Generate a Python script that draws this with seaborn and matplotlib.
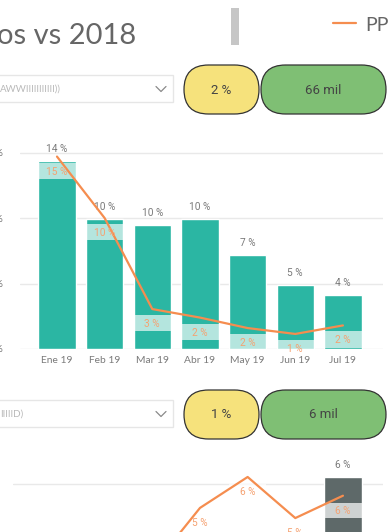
import numpy as np
import matplotlib
matplotlib.use("Agg")
import matplotlib.pyplot as plt
import seaborn as sns
from matplotlib.patches import FancyBboxPatch, Rectangle

# data
months = ["Ene 19", "Feb 19", "Mar 19", "Abr 19", "May 19", "Jun 19", "Jul 19"]
top_bars = [14.35, 9.9, 9.5, 9.9, 7.2, 4.9, 4.15]
top_pp = [14.7, 10.0, 3.05, 2.4, 1.6, 1.15, 1.8]
top_kpis = ["2 %", "66 mil"]
bottom_bars = [2.9, 3.1, 2.6, 3.0, 3.2, 2.8, 6.27]
bottom_pp = [2.4, 2.6, 2.8, 5.08, 6.27, 4.69, 5.55]
bottom_kpis = ["1 %", "6 mil"]
title = "os vs 2018"
legend_label = "PP"

teal = "#2bb6a3"
slate = "#5e6969"
orange = "#f58d4f"
orange_txt = "#f5a272"
grey_txt = "#7a7a7a"

sns.set_theme(style="white")
plt.rcParams["font.family"] = ["Lato", "DejaVu Sans"]

W, H = 390, 532
fig = plt.figure(figsize=(W / 100, H / 100), dpi=100)


def px_axes(left, top, right, bottom):
    return fig.add_axes([left / W, 1 - bottom / H, (right - left) / W, (bottom - top) / H])


def draw_chart(ax, bars, pp, color, ylim, yticks, band_off, band_h, band_alpha):
    x = np.arange(len(months))
    sns.barplot(x=x, y=bars, color=color, saturation=1, width=0.78, ax=ax, zorder=2)
    ax.bar_label(ax.containers[0], labels=[f"{v:.0f} %" for v in bars], padding=5,
                 fontsize=7.3, color=grey_txt, family="Roboto")
    # white label backdrops of the line series
    pp = np.array(pp)
    ax.bar(x, [band_h] * len(x), bottom=pp - band_off - band_h, width=0.78,
           color="white", alpha=band_alpha, zorder=3, linewidth=0)
    sns.lineplot(x=x, y=pp, color=orange, lw=1.6, ax=ax, zorder=4)
    for xi, v in zip(x, pp):
        ax.annotate(f"{v:.0f} %", (xi, v), xytext=(0, -15), textcoords="offset pixels",
                    ha="center", va="center", fontsize=7.3, color=orange_txt,
                    family="Roboto", zorder=5)
    ax.set_yticks(yticks)
    ax.set_yticklabels([f"{t} %" for t in yticks])
    ax.set_ylim(*ylim)
    ax.grid(axis="y", color="#e9e9e9", lw=1, zorder=0)
    ax.set_axisbelow(True)
    sns.despine(ax=ax, left=True, bottom=True, top=True, right=True)
    ax.tick_params(axis="both", length=0, colors=grey_txt, labelsize=7.4, pad=12)
    ax.set_xlabel("")
    ax.set_ylabel("")


# upper chart
ax1 = px_axes(20, 133, 383, 349)
draw_chart(ax1, top_bars, top_pp, teal, (0, 16.5), [0, 5, 10, 15], 0.46, 1.25, 0.65)
ax1.set_xlim(-0.776, 6.84)
ax1.set_xticks(range(len(months)))
ax1.set_xticklabels(months)
ax1.tick_params(axis="x", pad=5)

# lower chart (only its top part is in view)
ax2 = px_axes(13, 445, 383, 532)
draw_chart(ax2, bottom_bars, bottom_pp, slate, (4.154, 7.5), [0, 2, 4, 6], 0.27, 0.58, 0.7)
ax2.set_xlim(-0.923, 6.84)
ax2.set_xticks([])
ax2.tick_params(axis="y", pad=10)

# header and slicer decorations in pixel space
deco = fig.add_axes([0, 0, 1, 1], zorder=-1)
deco.set_xlim(0, W)
deco.set_ylim(H, 0)
deco.axis("off")

deco.text(-3, 44, title, fontsize=21, color="#666666", ha="left", va="baseline")
deco.add_patch(Rectangle((231, 8), 8, 37, color="#c6c6c6", lw=0))
deco.plot([333, 356], [23, 23], color=orange, lw=1.6)
deco.text(365, 31, legend_label, fontsize=14, color="#666666", ha="left", va="baseline")

for top, kpis, stub in [(65, top_kpis, "AWWIIIIIIIIIII))"), (390, bottom_kpis, "IIIIID)")]:
    box_top = top + 10
    deco.add_patch(Rectangle((-2, box_top), 175, 27, fill=False, ec="#e6e6e6", lw=1))
    deco.text(0, box_top + 14, stub, fontsize=7, color="#b9b9b9", va="center", ha="left")
    cy = box_top + 14
    deco.plot([156, 161, 166], [cy - 2.5, cy + 2.5, cy - 2.5], color="#8a8a8a", lw=0.9)
    for (x0, w, fc), label in zip([(184, 75, "#f6e27c"), (261, 125, "#7fbf74")], kpis):
        deco.add_patch(FancyBboxPatch((x0, top), w, 49,
                                      boxstyle="round,pad=0,rounding_size=24.5",
                                      fc=fc, ec="#333333", lw=0.9))
        deco.text(x0 + w / 2, top + 25, label, fontsize=9.5, color="#444444",
                  ha="center", va="center", family="Roboto")

fig.savefig("out.png", dpi=100)
